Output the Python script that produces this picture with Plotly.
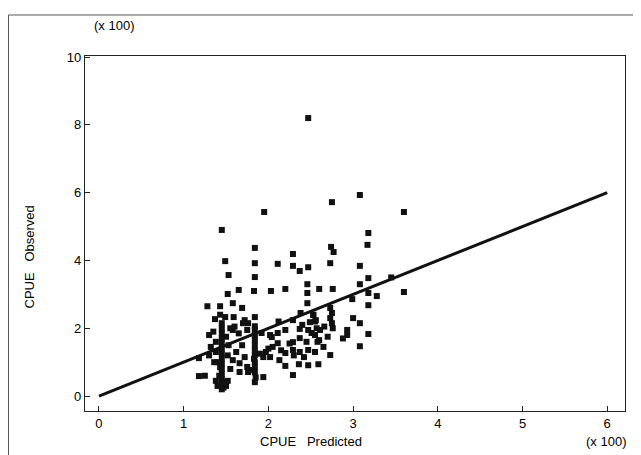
import plotly.graph_objects as go

# Predicted CPUE (x 100)
x_pred = [
    2.47, 1.45, 3.08, 2.75, 1.95, 3.60, 3.18, 3.17, 2.74, 2.77,
    1.84, 1.49, 1.84, 2.29, 2.11, 2.29, 2.37, 2.47, 2.73, 3.08,
    1.53, 1.84, 3.18, 3.45, 1.65, 1.52, 1.83, 2.03, 2.20, 2.46,
    2.46, 2.60, 2.76, 3.08, 3.18, 3.28, 3.60, 2.99, 3.18, 2.46,
    2.73, 1.28, 1.43, 1.58, 1.69, 1.37, 1.49, 1.59, 1.70, 1.84,
    1.84, 1.30, 2.38, 2.53, 2.56, 2.49, 2.73, 2.75, 2.76, 2.61,
    2.93, 2.93, 3.08, 3.18, 3.08, 2.20, 2.29, 2.02, 2.11, 2.37,
    2.47, 2.51, 2.60, 2.37, 2.29, 2.11, 2.20, 2.29, 2.37, 2.47,
    2.55, 2.13, 2.20, 2.36, 2.47, 2.59, 2.73, 2.29, 1.94, 2.02,
    1.94, 1.84, 1.84, 1.84, 1.84, 1.84, 1.84, 1.84, 1.84, 1.84,
    1.84, 1.85, 1.83, 1.72, 1.76, 1.75, 1.58, 1.69, 1.72, 1.58,
    1.66, 1.75, 1.76, 1.66, 1.78, 2.04, 1.92, 1.18, 1.18, 1.45,
    1.45, 1.45, 1.45, 1.45, 1.45, 1.45, 1.45, 1.45, 1.45, 1.45,
    1.45, 1.45, 1.45, 1.43, 1.40, 1.38, 1.50, 1.52, 1.40, 1.38,
    1.38, 1.52, 1.53, 1.50, 1.55, 1.35, 1.42, 1.32, 1.30, 1.25,
    1.47, 1.48, 1.43, 1.36, 1.55, 1.62, 1.65, 1.60, 2.53, 2.55,
    2.57, 2.55, 2.58, 2.75, 2.66, 2.70, 2.88, 2.45, 2.42, 2.30,
    2.15, 2.05, 1.97, 2.25, 2.65, 2.40, 1.90, 2.00, 2.12, 3.00,
]
# Observed CPUE (x 100)
y_obs = [
    8.20, 4.90, 5.93, 5.72, 5.43, 5.43, 4.81, 4.46, 4.40, 4.25,
    4.37, 3.98, 3.92, 4.19, 3.90, 3.84, 3.69, 3.80, 3.92, 3.84,
    3.57, 3.51, 3.48, 3.50, 3.13, 3.01, 3.10, 3.10, 3.16, 3.30,
    3.04, 3.16, 3.16, 3.30, 3.04, 2.95, 3.07, 2.86, 2.68, 2.74,
    2.60, 2.65, 2.65, 2.74, 2.60, 2.27, 2.33, 2.33, 2.15, 2.33,
    2.06, 1.80, 2.45, 2.39, 2.24, 2.18, 2.30, 2.15, 2.00, 1.95,
    1.95, 1.80, 2.15, 1.83, 1.47, 1.95, 2.24, 1.80, 1.86, 1.98,
    1.95, 1.86, 1.65, 1.71, 1.59, 1.56, 1.27, 1.36, 1.30, 1.36,
    1.30, 1.06, 0.89, 0.94, 0.91, 0.94, 1.21, 0.62, 1.15, 1.15,
    0.56, 0.41, 0.70, 0.85, 1.00, 1.20, 1.35, 1.50, 1.65, 1.80,
    1.95, 0.55, 1.10, 2.24, 2.15, 1.95, 1.95, 1.50, 1.15, 1.06,
    0.97, 0.86, 0.71, 0.71, 0.77, 1.74, 1.86, 1.12, 0.59, 0.20,
    0.35, 0.50, 0.65, 0.80, 0.95, 1.10, 1.25, 1.40, 1.55, 1.70,
    1.85, 2.00, 2.15, 2.40, 0.30, 0.45, 0.30, 0.45, 1.00, 1.30,
    1.60, 1.20, 1.50, 1.75, 2.00, 1.90, 0.60, 1.45, 1.20, 0.60,
    0.25, 0.40, 0.85, 1.00, 0.80, 1.30, 1.85, 2.05, 2.40, 2.20,
    2.00, 1.80, 1.60, 2.45, 2.05, 1.75, 1.70, 1.60, 1.15, 1.20,
    1.35, 1.45, 1.30, 1.55, 1.45, 2.10, 1.25, 1.40, 2.20, 2.30,
]

line_x = [0, 6]
line_y = [0, 6]

x_ticks = [0, 1, 2, 3, 4, 5, 6]
y_ticks = [0, 2, 4, 6, 8, 10]

FONT = "Liberation Sans, Arial, sans-serif"
INK = "#000000"

fig = go.Figure()
fig.add_trace(go.Scatter(
    x=x_pred, y=y_obs, mode="markers",
    marker=dict(symbol="square", size=6, color="#111111", line=dict(width=0)),
    showlegend=False, hoverinfo="x+y",
))
fig.add_trace(go.Scatter(
    x=line_x, y=line_y, mode="lines",
    line=dict(color="#111111", width=3),
    showlegend=False, hoverinfo="skip",
))

axis_common = dict(
    showgrid=False, zeroline=False, showline=True, mirror=True,
    linecolor="#222222", linewidth=1.3,
    ticks="inside", ticklen=5, tickwidth=1.2, tickcolor="#222222",
    tickfont=dict(family=FONT, size=13, color=INK),
)

# page body has an 8px margin, so the figure is sized/placed to compensate
fig.update_layout(
    width=633, height=447,
    margin=dict(l=77, r=16, t=48, b=44),
    paper_bgcolor="white", plot_bgcolor="white",
    font=dict(family=FONT, size=13, color=INK),
    xaxis=dict(range=[-0.165, 6.21], tickvals=x_ticks,
               ticktext=[str(v) for v in x_ticks], **axis_common),
    yaxis=dict(range=[-0.44, 10.03], tickvals=y_ticks,
               ticktext=[str(v) for v in y_ticks], **axis_common),
    annotations=[
        dict(text="(x 100)", xref="paper", yref="paper", x=0.013, y=1.085,
             xanchor="left", yanchor="middle", showarrow=False,
             font=dict(family=FONT, size=13, color=INK)),
        dict(text="(x 100)", xref="paper", yref="paper", x=1.005, y=-0.087,
             xanchor="right", yanchor="middle", showarrow=False,
             font=dict(family=FONT, size=13, color=INK)),
        dict(text="CPUE\u00a0\u00a0\u00a0Predicted", xref="paper", yref="paper",
             x=0.418, y=-0.087, xanchor="center", yanchor="middle",
             showarrow=False, font=dict(family=FONT, size=13, color=INK)),
        dict(text="CPUE\u00a0\u00a0\u00a0Observed", xref="paper", yref="paper",
             x=-0.102, y=0.435, xanchor="center", yanchor="middle",
             textangle=-90, showarrow=False,
             font=dict(family=FONT, size=13, color=INK)),
    ],
    shapes=[
        dict(type="line", xref="paper", yref="paper",
             x0=-0.1417, y0=1.1155, x1=1.05, y1=1.1155,
             line=dict(color="#555555", width=1)),
        dict(type="line", xref="paper", yref="paper",
             x0=-0.1417, y0=1.1155, x1=-0.1417, y1=-0.2,
             line=dict(color="#555555", width=1)),
    ],
)

fig.write_html("out.html")
